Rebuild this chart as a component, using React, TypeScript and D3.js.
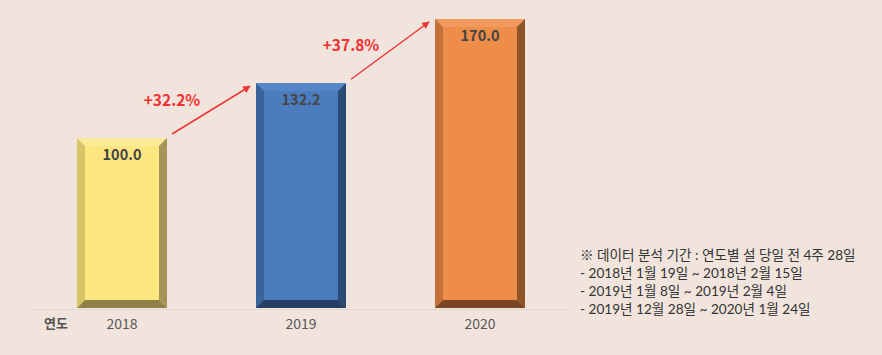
import React from "react";
import * as d3 from "d3";

const years = ["2018", "2019", "2020"];
const values = [100.0, 132.2, 170.0];
const growthLabels = ["+32.2%", "+37.8%"];
const noteLines = [
  "※ 데이터 분석 기간 : 연도별 설 당일 전 4주 28일",
  "- 2018년 1월 19일 ~ 2018년 2월 15일",
  "- 2019년 1월 8일 ~ 2019년 2월 4일",
  "- 2019년 12월 28일 ~ 2020년 1월 24일",
];
const faceColors = ["#FBE67F", "#4A7CBE", "#EE8C4A"];
const leftColors = ["#D8C56A", "#3A6399", "#C4713B"];
const topColors = ["#FCEB98", "#5587C8", "#F09A5E"];
const rightColors = ["#A4955A", "#2B4A74", "#8F5429"];
const bottomColors = ["#8E8148", "#263F62", "#7A4624"];

const W = 882;
const H = 355;

export default function App() {
  const xc = d3.scalePoint<string>().domain(years).range([122, 480]);
  const y = d3.scaleLinear().domain([0, 170]).range([308, 19]);
  const bw = 90;
  const bev = 8;
  const font = "'Noto Sans CJK KR', 'Noto Sans', sans-serif";
  const noteFont = "Lato, 'Noto Sans CJK KR', sans-serif";

  return (
    <svg width={W} height={H} style={{ position: "absolute", left: 0, top: 0 }}>
      <defs>
        <marker id="arr" viewBox="0 0 10 10" refX="9" refY="5" markerWidth="5" markerHeight="5" orient="auto">
          <path d="M0,0 L10,5 L0,10 z" fill="#EE3535" />
        </marker>
      </defs>
      <rect width={W} height={H} fill="#F0E4DC" />
      <line x1={33} x2={568} y1={309.5} y2={309.5} stroke="#E2D6CE" strokeWidth={1} />
      {years.map((yr, i) => {
        const cx = xc(yr)!;
        const x0 = cx - bw / 2;
        const x1 = cx + bw / 2;
        const y0 = y(values[i]);
        const y1 = y(0);
        return (
          <g key={yr}>
            <rect x={x0} y={y0} width={bw} height={y1 - y0} fill={faceColors[i]} />
            <polygon points={`${x0},${y0} ${x1},${y0} ${x1 - bev},${y0 + bev} ${x0 + bev},${y0 + bev}`} fill={topColors[i]} />
            <polygon points={`${x0},${y0} ${x0 + bev},${y0 + bev} ${x0 + bev},${y1 - bev} ${x0},${y1}`} fill={leftColors[i]} />
            <polygon points={`${x1},${y0} ${x1},${y1} ${x1 - bev},${y1 - bev} ${x1 - bev},${y0 + bev}`} fill={rightColors[i]} />
            <polygon points={`${x0},${y1} ${x1},${y1} ${x1 - bev},${y1 - bev} ${x0 + bev},${y1 - bev}`} fill={bottomColors[i]} />
            <text x={cx} y={y0 + 22} textAnchor="middle" fontFamily={font} fontSize={14.5} fontWeight="bold" fill="#454545">
              {values[i].toFixed(1)}
            </text>
            <text x={cx} y={329} textAnchor="middle" fontFamily={font} fontSize={14} fill="#595959">
              {yr}
            </text>
          </g>
        );
      })}
      <text x={56} y={328} textAnchor="middle" fontFamily={font} fontSize={13} fontWeight="bold" fill="#555">
        연도
      </text>
      {growthLabels.map((g, i) => {
        const xa = xc(years[i])! + bw / 2 + 5;
        const ya = y(values[i]) - 4;
        const xb = xc(years[i + 1])! - bw / 2 - 6;
        const yb = y(values[i + 1]) + 3;
        return (
          <g key={g}>
            <line x1={xa} y1={ya} x2={xb} y2={yb} stroke="#EE3535" strokeWidth={1.5} markerEnd="url(#arr)" />
            <text x={xa} y={ya - 28} textAnchor="middle" fontFamily={font} fontSize={15.5} fontWeight="bold" fill="#F03232">
              {g}
            </text>
          </g>
        );
      })}
      {noteLines.map((t, i) => (
        <text key={i} x={580} y={260 + i * 18} fontFamily={noteFont} fontSize={13.6} fill="#333">
          {t}
        </text>
      ))}
    </svg>
  );
}
